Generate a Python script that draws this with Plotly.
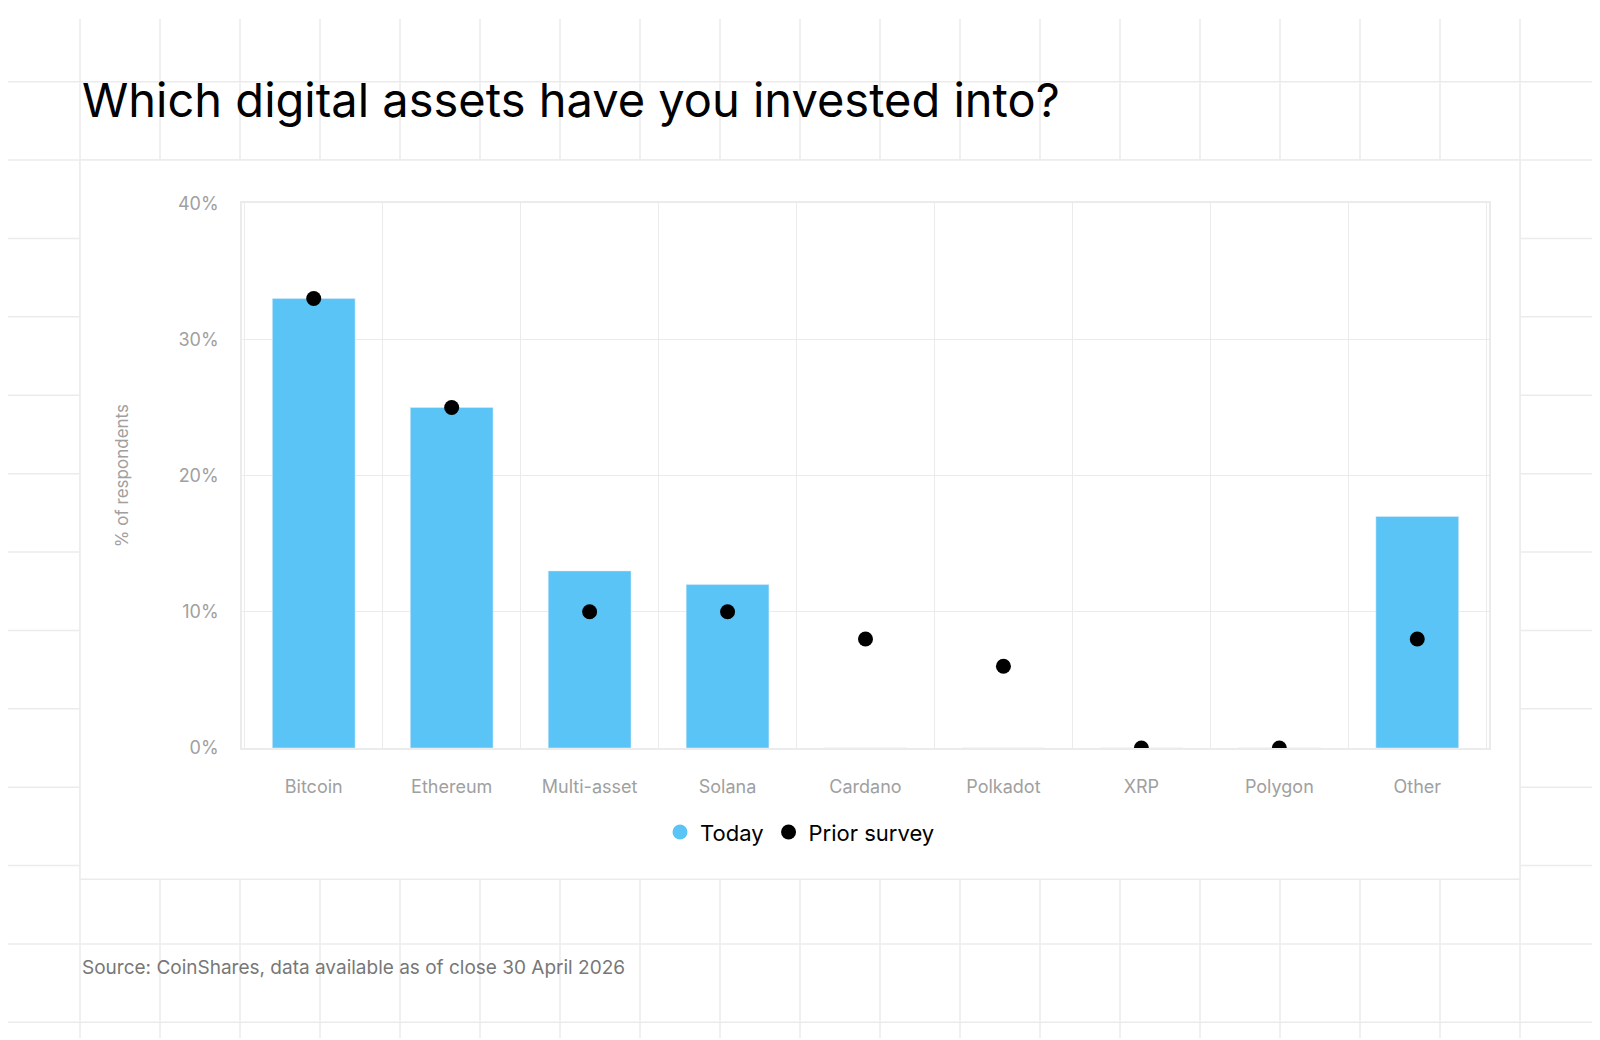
import plotly.graph_objects as go

categories = ["Bitcoin", "Ethereum", "Multi-asset", "Solana", "Cardano",
              "Polkadot", "XRP", "Polygon", "Other"]
today = [33, 25, 13, 12, 0, 0, 0, 0, 17]
prior_survey = [33, 25, 10, 10, 8, 6, 0, 0, 8]

W, H = 1600, 1040
OFF = 8  # page body margin
FONT = "Inter, Roboto, sans-serif"
GRID = "#ebebeb"
BLUE = "#5BC4F7"


def px(v):
    return (v - OFF) / W


def py(v):
    return 1 - (v - OFF) / H


fig = go.Figure()
fig.add_trace(go.Bar(x=categories, y=today, name="Today", marker_color=BLUE,
                     width=0.6, showlegend=False))
# legend entry with a round swatch
fig.add_trace(go.Scatter(x=[categories[0]], y=[None], name="Today", mode="markers",
                         marker=dict(color=BLUE, size=15)))
fig.add_trace(go.Scatter(x=categories, y=prior_survey, name="Prior survey", mode="markers",
                         marker=dict(color="black", size=15)))

# faint background grid, then a white card on top of it
shapes = []
step = 80
for i in range(0, W + OFF + 1, step):
    shapes.append(dict(type="line", xref="paper", yref="paper", x0=px(i), x1=px(i), y0=0, y1=1,
                       line=dict(color=GRID, width=1.5), layer="below"))
for j in range(0, H + OFF + 1, step):
    shapes.append(dict(type="line", xref="paper", yref="paper", y0=py(j - 8), y1=py(j - 8), x0=0, x1=1,
                       line=dict(color=GRID, width=1.5), layer="below"))
shapes.append(dict(type="rect", xref="paper", yref="paper", x0=px(80), x1=px(1520),
                   y0=py(886), y1=py(152), fillcolor="white",
                   line=dict(color=GRID, width=1.5), layer="below"))

fig.update_layout(
    width=W, height=H, margin=dict(l=0, r=0, t=0, b=0),
    paper_bgcolor="white", plot_bgcolor="rgba(0,0,0,0)",
    font=dict(family=FONT),
    shapes=shapes,
    showlegend=True,
    legend=dict(orientation="h", x=0.5 - OFF / W, xanchor="center", y=py(838), yanchor="middle",
                font=dict(size=22, color="black"), bgcolor="rgba(0,0,0,0)"),
    xaxis=dict(domain=[px(242), px(1489)], tickson="boundaries", showgrid=True, gridcolor=GRID,
               showline=True, mirror=True, linecolor=GRID, linewidth=1.5,
               tickfont=dict(size=18, color="#a0a0a0"), ticks="", ticklabelstandoff=22),
    yaxis=dict(domain=[py(752), py(196)], range=[0, 40], dtick=10, ticksuffix="%",
               showgrid=True, gridcolor=GRID, zeroline=False,
               showline=True, mirror=True, linecolor=GRID, linewidth=1.5,
               tickfont=dict(size=18, color="#a0a0a0"), ticklabelstandoff=18,
               title=dict(text="% of respondents", font=dict(size=17, color="#a0a0a0"), standoff=45)),
    annotations=[
        dict(text="Which digital assets have you invested into?", xref="paper", yref="paper",
             x=px(80), y=py(90), xanchor="left", yanchor="middle", showarrow=False,
             font=dict(size=47, color="black")),
        dict(text="Source: CoinShares, data available as of close 30 April 2026", xref="paper",
             yref="paper", x=px(80), y=py(976), xanchor="left", yanchor="middle",
             showarrow=False, font=dict(size=19, color="#777777")),
    ],
)

fig.write_html("out.html")
